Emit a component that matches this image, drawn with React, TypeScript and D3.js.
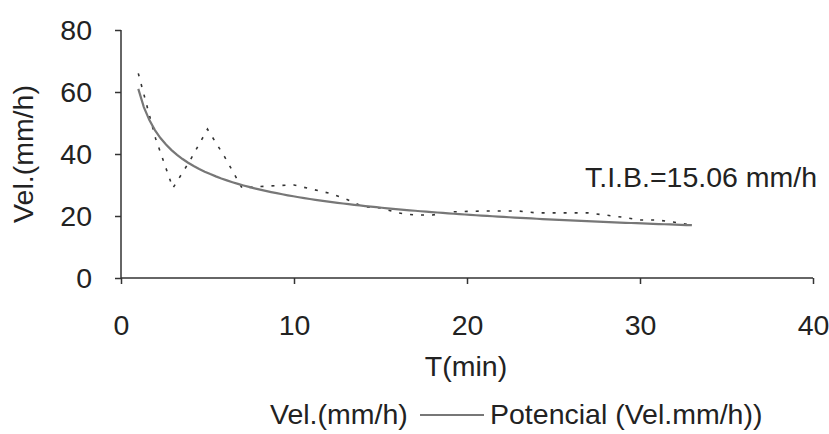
import React, { useEffect, useRef } from "react";
import * as d3 from "d3";

// observed infiltration rate (mm/h) per minute
const tiempos = [1, 2, 3, 4, 5, 6, 7, 8, 9, 10, 11, 12, 13, 14, 15, 16, 17, 18, 19, 20, 21, 22, 23, 24, 25, 26, 27, 28, 29, 30, 31, 32, 33];
const velocidad = [66, 45, 29, 38, 48, 39, 29, 29.5, 29.8, 30, 28.7, 27.4, 25.5, 23, 22.6, 21, 20.3, 20.3, 21.3, 21.5, 21.6, 21.6, 21.6, 21, 21, 21, 21, 20.3, 19.6, 18.7, 18.7, 18, 17];
// power trendline coefficients, v = a * t^b
const potA = 61;
const potB = -0.365;
const xTicks = [0, 10, 20, 30, 40];
const yTicks = [0, 20, 40, 60, 80];
const textoTIB = "T.I.B.=15.06 mm/h";

const App = () => {
  const ref = useRef<SVGSVGElement>(null);

  useEffect(() => {
    const svg = d3.select(ref.current);
    svg.selectAll("*").remove();

    const width = 829;
    const height = 434;
    const margin = { top: 30, left: 121, bottom: 156, right: 16 };
    const iwidth = width - margin.left - margin.right;
    const iheight = height - margin.top - margin.bottom;
    const font = "'Liberation Sans', Arial, sans-serif";
    const fs = "28.5px";

    const x = d3.scaleLinear().domain([0, 40]).range([0, iwidth]);
    const y = d3.scaleLinear().domain([0, 80]).range([iheight, 0]);

    const g = svg.append("g").attr("transform", `translate(${margin.left},${margin.top})`);

    const tMin = tiempos[0];
    const tMax = tiempos[tiempos.length - 1];
    const tendencia = d3.range(0, 101).map((i) => {
      const t = tMin + ((tMax - tMin) * i) / 100;
      return [t, potA * Math.pow(t, potB)] as [number, number];
    });

    const linea = d3
      .line<[number, number]>()
      .x((d) => x(d[0]))
      .y((d) => y(d[1]));

    g.append("path")
      .attr("d", linea(tiempos.map((t, i) => [t, velocidad[i]] as [number, number])))
      .attr("fill", "none")
      .attr("stroke", "#333")
      .attr("stroke-width", 1.6)
      .attr("stroke-dasharray", "3,8");

    g.append("path")
      .attr("d", linea(tendencia))
      .attr("fill", "none")
      .attr("stroke", "#777")
      .attr("stroke-width", 2.2);

    const ax = g.append("g").attr("transform", `translate(0,${iheight})`)
      .call(d3.axisBottom(x).tickValues(xTicks).tickSize(6).tickPadding(31));
    const ay = g.append("g").call(d3.axisLeft(y).tickValues(yTicks).tickSize(6).tickPadding(23));

    [ax, ay].forEach((a) => {
      a.select(".domain").attr("stroke", "#333").attr("stroke-width", 1.5);
      a.selectAll(".tick line").attr("stroke", "#333").attr("stroke-width", 1.5);
      a.selectAll(".tick text").attr("fill", "#222").style("font-family", font).style("font-size", fs);
    });
    ax.select(".domain").attr("d", `M0,0H${iwidth}`);
    ay.select(".domain").attr("d", `M0,${iheight}V0`);

    svg.append("text")
      .attr("transform", `translate(33,${margin.top + iheight / 2}) rotate(-90)`)
      .attr("text-anchor", "middle")
      .attr("fill", "#222")
      .style("font-family", font)
      .style("font-size", fs)
      .text("Vel.(mm/h)");

    svg.append("text")
      .attr("x", 466)
      .attr("y", 376)
      .attr("text-anchor", "middle")
      .attr("fill", "#222")
      .style("font-family", font)
      .style("font-size", fs)
      .text("T(min)");

    svg.append("text")
      .attr("x", 585)
      .attr("y", 187)
      .attr("fill", "#222")
      .style("font-family", font)
      .style("font-size", fs)
      .text(textoTIB);

    // legend
    svg.append("text")
      .attr("x", 270)
      .attr("y", 424)
      .attr("fill", "#222")
      .style("font-family", font)
      .style("font-size", fs)
      .text("Vel.(mm/h)");
    svg.append("line")
      .attr("x1", 420)
      .attr("x2", 484)
      .attr("y1", 415)
      .attr("y2", 415)
      .attr("stroke", "#777")
      .attr("stroke-width", 2.2);
    svg.append("text")
      .attr("x", 490)
      .attr("y", 424)
      .attr("fill", "#222")
      .style("font-family", font)
      .style("font-size", fs)
      .text("Potencial (Vel.mm/h))");
  }, []);

  return (
    <svg
      ref={ref}
      width={829}
      height={434}
      style={{ position: "absolute", left: 0, top: 0, background: "#fff" }}
    ></svg>
  );
};

export default App;
